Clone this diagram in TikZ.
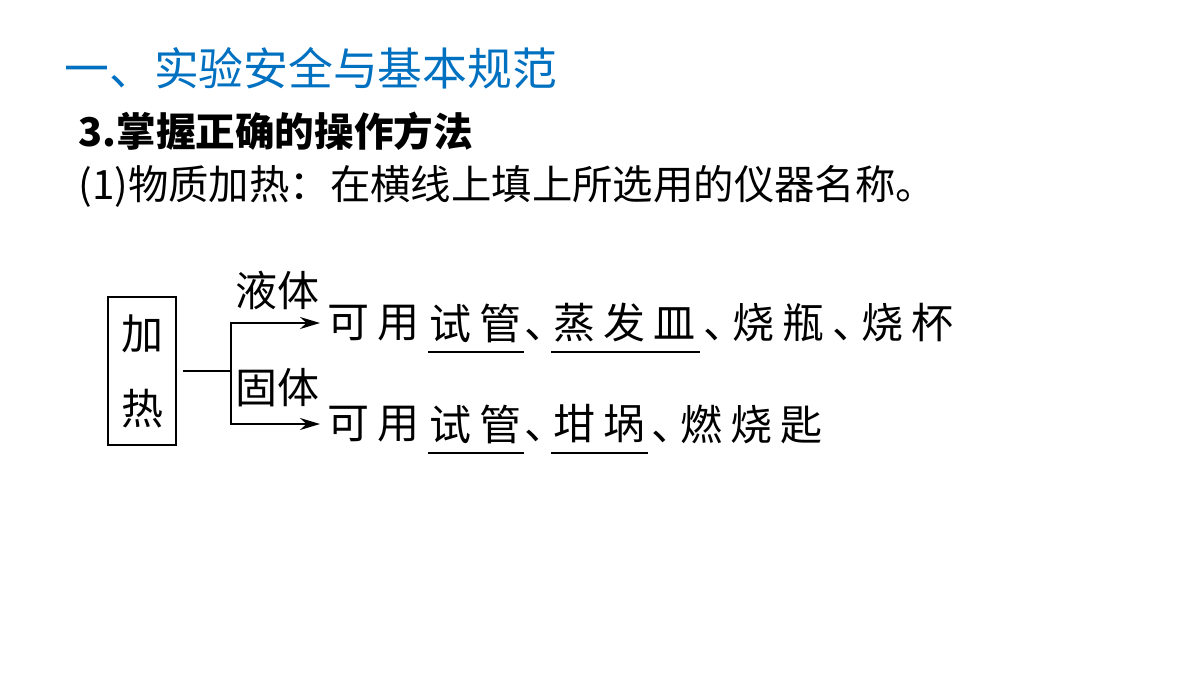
\documentclass[tikz,border=0pt]{standalone}
\usepackage{fontspec}
\setmainfont{Noto Sans CJK SC}
\newfontfamily\cjk{Noto Sans CJK SC}
\newfontfamily\cjkspaced[LetterSpace=19, RawFeature=+halt]{Noto Sans CJK SC}
\usetikzlibrary{arrows.meta,positioning}
\definecolor{titleblue}{RGB}{0,112,192}

\begin{document}
\begin{tikzpicture}
        [x=0.5pt, y=-0.5pt,
        every node/.style={inner sep=0pt, anchor=west},
        titletext/.style={font=\cjk\fontsize{22.4pt}{26pt}\selectfont, text=titleblue},
        headtext/.style={font=\cjk\bfseries\fontsize{19.8pt}{24pt}\selectfont},
        bodytext/.style={font=\cjk\fontsize{20.2pt}{24pt}\selectfont},
        % diagram
        heatbox/.style={draw=black, line width=1pt, anchor=center, align=center,
            minimum width=34pt, minimum height=74pt,
            font=\cjk\fontsize{21pt}{37.5pt}\selectfont},
        tag/.style={font=\cjk\fontsize{21pt}{24pt}\selectfont},
        rowtext/.style={font=\cjkspaced\fontsize{21pt}{24pt}\selectfont},
        blank/.style={rowtext, align=center},
        link/.style={draw=black, line width=1pt},
        arrow/.style={link, -{Stealth[length=10pt, width=6pt]}, shorten >=3.5pt},
        uline/.style={draw=black, line width=1pt}]
        \useasboundingbox (0,0) rectangle (1200,675);
        \node [titletext] (title) at (64,68) {一、实验安全与基本规范};
        \node [headtext] (head) at (78,131) {3.掌握正确的操作方法};
        \node [bodytext] (task) at (78,186) {(1)物质加热：在横线上填上所选用的仪器名称。};

        \node [heatbox] (heat) at (142,371) {加\\热};
        \coordinate (fork) at (231,371);
        \node [tag] (liquid) at (235,290) {液体};
        \node [tag] (solid) at (235,388) {固体};

        % liquids
        \node [rowtext] (use1) at (327,323) {可用};
        \node [blank, minimum width=47.5pt] (tube1) at (428,323) {试管};
        \node [rowtext] (dish) at (524,323) {、蒸发皿};
        \node [rowtext] (rest1) at (703,323) {、烧瓶、烧杯};

        % solids
        \node [rowtext] (use2) at (327,424) {可用};
        \node [blank, minimum width=47.5pt] (tube2) at (428,424) {试管};
        \node [rowtext] (crucible) at (524,424) {、坩埚};
        \node [rowtext] (rest2) at (651,424) {、燃烧匙};

        \draw [link, shorten <=3pt] (heat.east) -- (fork);
        \draw [arrow] (fork) |- (use1.west);
        \draw [arrow] (fork) |- (use2.west);
        \foreach \b in {tube1,tube2}
            \draw [uline] ([yshift=-14.5pt]\b.west) -- ([yshift=-14.5pt]\b.east);
        \draw [uline] ([shift={(13.5pt,-14.5pt)}]dish.west) -- ([shift={(88pt,-14.5pt)}]dish.west);
        \draw [uline] ([shift={(13.5pt,-14.5pt)}]crucible.west) -- ([shift={(62pt,-14.5pt)}]crucible.west);
\end{tikzpicture}
\end{document}
